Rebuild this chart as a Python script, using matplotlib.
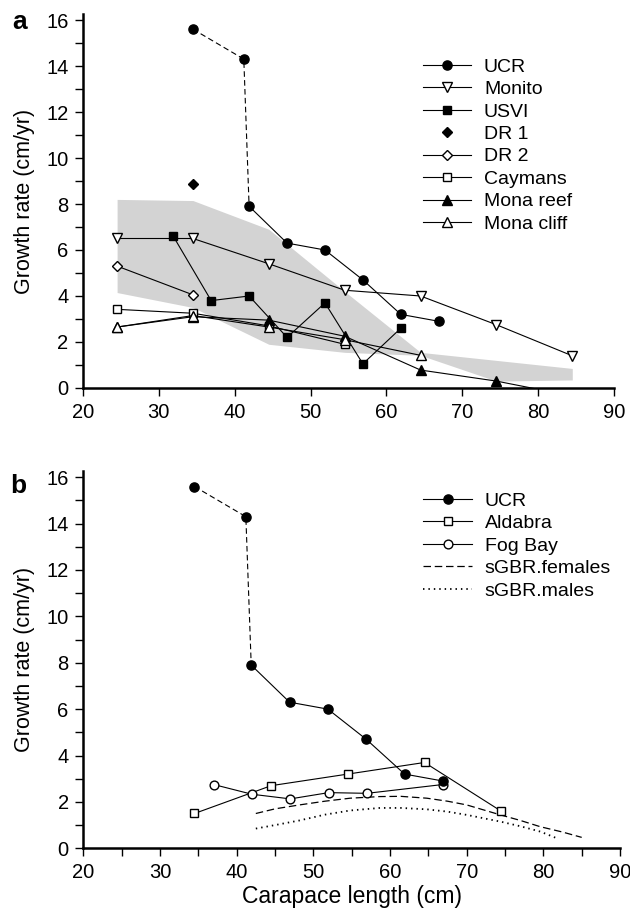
import numpy as np
import matplotlib
matplotlib.use("Agg")
import matplotlib.pyplot as plt

plt.rcParams['font.family'] = ['Liberation Sans', 'DejaVu Sans']

# --- data ---
ucr_x = [34.5, 41.2, 41.9, 46.9, 51.9, 56.9, 61.9, 66.9]
ucr_y = [15.6, 14.3, 7.9, 6.3, 6.0, 4.7, 3.2, 2.9]

monito_x = [24.5, 34.5, 44.5, 54.5, 64.5, 74.5, 84.5]
monito_y = [6.5, 6.5, 5.4, 4.25, 4.0, 2.75, 1.4]

usvi_x = [31.9, 36.9, 41.9, 46.9, 51.9, 56.9, 61.9]
usvi_y = [6.6, 3.8, 4.0, 2.2, 3.7, 1.05, 2.6]

dr1_x = [34.5]
dr1_y = [8.85]

dr2_x = [24.5, 34.5]
dr2_y = [5.3, 4.05]

caymans_x = [24.5, 34.5, 44.5, 54.5]
caymans_y = [3.42, 3.25, 2.7, 1.9]

monareef_x = [24.5, 34.5, 44.5, 54.5, 64.5, 74.5, 84.5]
monareef_y = [2.65, 3.1, 2.95, 2.25, 0.78, 0.3, -0.35]

monacliff_x = [24.5, 34.5, 44.5, 54.5, 64.5]
monacliff_y = [2.65, 3.15, 2.65, 2.1, 1.42]

band_x = [24.5, 34.5, 44.5, 54.5, 64.5, 74.5, 84.5]
band_hi = [8.2, 8.15, 6.9, 4.2, 1.55, 1.2, 0.85]
band_lo = [4.15, 3.5, 1.9, 1.55, 1.42, 0.3, 0.35]

aldabra_x = [34.5, 44.5, 54.5, 64.5, 74.5]
aldabra_y = [1.5, 2.7, 3.2, 3.7, 1.6]

fogbay_x = [37.0, 42.0, 47.0, 52.0, 57.0, 66.9]
fogbay_y = [2.75, 2.33, 2.13, 2.4, 2.37, 2.75]

fem_x = [42.5, 45.0, 48.2, 51.5, 54.8, 58.7, 61.4, 64.8, 67.5, 70.0, 74.4, 77.0, 79.6, 82.5, 85.0]
fem_y = [1.5, 1.7, 1.87, 2.03, 2.16, 2.23, 2.24, 2.16, 2.03, 1.87, 1.44, 1.2, 0.93, 0.7, 0.47]

male_x = [42.5, 45.0, 48.2, 51.5, 54.8, 58.7, 61.4, 64.8, 67.5, 70.0, 74.4, 77.0, 79.6, 82.0]
male_y = [0.85, 1.0, 1.2, 1.45, 1.63, 1.74, 1.74, 1.68, 1.58, 1.44, 1.15, 0.95, 0.72, 0.4]

lw = 0.8
ms = 6.3


def style_axis(ax, minor_x):
    ax.set_xlim(20, 90)
    ax.set_ylim(0, 16.25)
    ax.spines['top'].set_visible(False)
    ax.spines['right'].set_visible(False)
    ax.spines['left'].set_linewidth(1.8)
    ax.spines['bottom'].set_linewidth(1.8)
    ax.set_xticks(np.arange(20, 91, 10))
    ax.set_yticks(np.arange(0, 17, 2))
    ax.set_yticks(np.arange(1, 16, 2), minor=True)
    if minor_x:
        ax.set_xticks(np.arange(25, 90, 10), minor=True)
    ax.tick_params(which='both', direction='out', length=6, width=1.0, labelsize=14.5, pad=4.5)
    ax.set_ylabel("Growth rate (cm/yr)", fontsize=15.5, labelpad=8)


def plot_ucr(ax):
    ax.plot(ucr_x[:3], ucr_y[:3], color='black', lw=lw, ls=(0, (5, 3)), zorder=3)
    ax.plot(ucr_x[2:], ucr_y[2:], color='black', lw=lw, zorder=3)
    ax.plot(ucr_x, ucr_y, ls='none', marker='o', ms=ms + 0.3, mfc='black', mec='black', zorder=4)
    return ax.plot([], [], color='black', lw=lw, marker='o', ms=ms + 0.3, mfc='black', mec='black')[0]


fig = plt.figure(figsize=(6.3, 9.14), dpi=100)
ax1 = fig.add_axes([0.1317, 0.5755, 0.8429, 0.4089])
ax2 = fig.add_axes([0.1322, 0.0719, 0.852, 0.4123])

# ---- panel a ----
ax1.fill_between(band_x, band_lo, band_hi, color='#d3d3d3', lw=0, zorder=1)
h_ucr = plot_ucr(ax1)
h_mon, = ax1.plot(monito_x, monito_y, color='black', lw=lw, marker='v', ms=ms + 0.5, mfc='white', mec='black', zorder=3)
h_usvi, = ax1.plot(usvi_x, usvi_y, color='black', lw=lw, marker='s', ms=ms - 0.3, mfc='black', mec='black', zorder=3)
h_dr1, = ax1.plot(dr1_x, dr1_y, ls='none', marker='D', ms=ms - 1.2, mfc='black', mec='black', zorder=3)
h_dr2, = ax1.plot(dr2_x, dr2_y, color='black', lw=lw, marker='D', ms=ms - 1, mfc='white', mec='black', zorder=3)
h_cay, = ax1.plot(caymans_x, caymans_y, color='black', lw=lw, marker='s', ms=ms - 0.5, mfc='white', mec='black', zorder=3)
h_mr, = ax1.plot(monareef_x, monareef_y, color='black', lw=lw, marker='^', ms=ms + 0.5, mfc='black', mec='black', zorder=3)
h_mc, = ax1.plot(monacliff_x, monacliff_y, color='black', lw=lw, marker='^', ms=ms + 0.5, mfc='white', mec='black', zorder=3)
style_axis(ax1, minor_x=False)

fig.legend([h_ucr, h_mon, h_usvi, h_dr1, h_dr2, h_cay, h_mr, h_mc],
           ["UCR", "Monito", "USVI", "DR 1", "DR 2", "Caymans", "Mona reef", "Mona cliff"],
           loc='upper left', bbox_to_anchor=(0.671, 0.9366), frameon=False, fontsize=14,
           handlelength=2.5, handletextpad=0.65, labelspacing=0.25, borderpad=0, borderaxespad=0)

# ---- panel b ----
h_ucr2 = plot_ucr(ax2)
h_ald, = ax2.plot(aldabra_x, aldabra_y, color='black', lw=lw, marker='s', ms=ms, mfc='white', mec='black', zorder=3)
h_fog, = ax2.plot(fogbay_x, fogbay_y, color='black', lw=lw, marker='o', ms=ms, mfc='white', mec='black', zorder=3)
h_fem, = ax2.plot(fem_x, fem_y, color='black', lw=0.9, ls=(0, (6, 3)), zorder=2)
h_male, = ax2.plot(male_x, male_y, color='black', lw=1.3, ls=(0, (0.8, 2.2)), zorder=2)
style_axis(ax2, minor_x=True)
ax2.set_xlabel("Carapace length (cm)", fontsize=16.5, labelpad=2)

fig.legend([h_ucr2, h_ald, h_fog, h_fem, h_male],
           ["UCR", "Aldabra", "Fog Bay", "sGBR.females", "sGBR.males"],
           loc='upper left', bbox_to_anchor=(0.672, 0.4615), frameon=False, fontsize=14,
           handlelength=2.5, handletextpad=0.65, labelspacing=0.25, borderpad=0, borderaxespad=0)

fig.text(20 / 630, 1 - 22 / 914, "a", fontsize=19, fontweight='bold', ha='center', va='center')
fig.text(18 / 630, 1 - 486 / 914, "b", fontsize=19, fontweight='bold', ha='center', va='center')

fig.savefig("out.png", dpi=100)
